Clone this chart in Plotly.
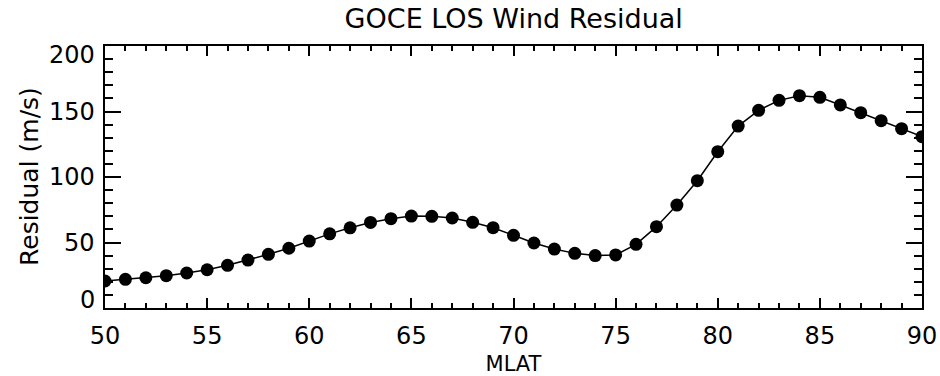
import plotly.graph_objects as go

mlat = list(range(50, 91))
residual = [20.6, 21.9, 23.1, 24.7, 26.7, 29.2, 32.6, 36.6, 41.0, 45.6,
            51.1, 56.6, 61.2, 65.3, 68.2, 70.2, 70.0, 68.7, 65.4, 61.3,
            55.5, 49.6, 45.0, 41.7, 40.0, 40.5, 48.6, 62.1, 78.6, 97.2,
            119.3, 138.9, 150.9, 158.5, 162.1, 160.8, 155.0, 149.1, 143.0, 136.9,
            130.8]
xticks = [50, 55, 60, 65, 70, 75, 80, 85, 90]
yticks = [0, 50, 100, 150, 200]

FONT = "DejaVu Sans"

fig = go.Figure()
fig.add_trace(go.Scatter(
    x=mlat, y=residual, mode="lines+markers",
    line=dict(color="black", width=1.5),
    marker=dict(color="black", size=13),
    cliponaxis=True, showlegend=False, hoverinfo="skip"))

axis_common = dict(showline=True, linecolor="black", linewidth=2, mirror="allticks",
                   ticks="inside", tickcolor="black", tickwidth=2,
                   showgrid=False, zeroline=False, automargin=False)

fig.update_xaxes(range=[xticks[0], xticks[-1]], tickvals=xticks,
                 ticktext=[str(v) for v in xticks], ticklen=10,
                 minor=dict(dtick=1, ticks="inside", ticklen=5, tickwidth=2,
                            tickcolor="black", showgrid=False),
                 tickfont=dict(family=FONT, size=24, color="black"),
                 ticklabelstandoff=5,
                 title=dict(text="MLAT", font=dict(family=FONT, size=21, color="black"),
                            standoff=8),
                 **axis_common)

fig.update_yaxes(range=[yticks[0], yticks[-1]], tickvals=yticks, showticklabels=False,
                 ticklen=16,
                 minor=dict(dtick=10, ticks="inside", ticklen=8, tickwidth=2,
                            tickcolor="black", showgrid=False),
                 **axis_common)

for v in yticks:
    shift = -9 if v == yticks[-1] else (8 if v == yticks[0] else 0)
    fig.add_annotation(x=0, xref="paper", y=v, yref="y", text=str(v),
                       showarrow=False, xanchor="right", yanchor="middle",
                       xshift=-8, yshift=shift,
                       font=dict(family=FONT, size=24, color="black"))

fig.add_annotation(x=0, xref="paper", y=0.5, yref="paper", text="Residual (m/s)",
                   showarrow=False, textangle=-90, xanchor="center", yanchor="middle",
                   xshift=-76, font=dict(family=FONT, size=25, color="black"))

fig.update_layout(
    width=940, height=376,
    margin=dict(l=105, r=18, t=46, b=68, autoexpand=False),
    paper_bgcolor="white", plot_bgcolor="white",
    title=dict(text="GOCE LOS Wind Residual", x=0.5465, xanchor="center",
               y=1 - 19 / 376, yanchor="middle",
               font=dict(family=FONT, size=27, color="black")),
)

fig.write_html("out.html")
